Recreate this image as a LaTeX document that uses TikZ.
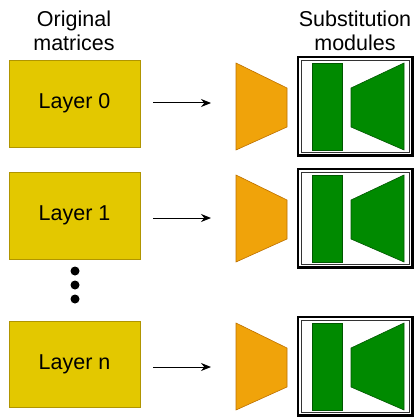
\documentclass[tikz,border=0pt]{standalone}
\usepackage{fontspec}
\setmainfont{Liberation Sans}
\usetikzlibrary{arrows.meta}
\definecolor{ylwfill}{HTML}{E3C800}
\definecolor{ylwdraw}{HTML}{B09500}
\definecolor{orgfill}{HTML}{F0A30A}
\definecolor{orgdraw}{HTML}{BD7000}
\definecolor{grnfill}{HTML}{008A00}
\definecolor{grndraw}{HTML}{005700}
\tikzset{
  layerbox/.style={draw=ylwdraw, fill=ylwfill, line width=0.8pt, minimum width=131pt, minimum height=87pt, inner sep=0pt, font=\fontsize{21.5}{24}\selectfont},
  header/.style={align=center, inner sep=0pt, font=\fontsize{21.5}{24}\selectfont},
  orgshape/.style={draw=orgdraw, fill=orgfill, line width=0.6pt},
  grnshape/.style={draw=grndraw, fill=grnfill, line width=0.6pt},
  outerbox/.style={draw=black, line width=2.4pt},
  innerbox/.style={draw=black!80, line width=0.6pt},
  flow/.style={draw=black, line width=1pt, -{Stealth[length=10pt,width=8pt]}},
  bullet/.style={circle, fill=black, inner sep=0pt, minimum size=9pt}
}
\newcommand{\submodule}[2]{%
  % #1 = name prefix, #2 = top y of the shapes
  \path[orgshape] (236,#2) -- (287,#2+25) -- (287,#2+64) -- (236,#2+87) -- cycle;
  \draw[outerbox] (298,#2-6) rectangle (412.5,#2+92.5);
  \draw[innerbox] (301.5,#2-2.5) rectangle (409,#2+89);
  \path[grnshape] (312,#2) rectangle (342,#2+87);
  \path[grnshape] (351,#2+25) -- (404,#2) -- (404,#2+87) -- (351,#2+64) -- cycle;
  \coordinate (#1in) at (236,#2+43.5);
}
\begin{document}
\begin{tikzpicture}[x=1pt,y=-1pt]
\useasboundingbox (0,0) rectangle (416,417);
\node[header] (h1) at (74,31) {Original\\matrices};
\node[header] (h2) at (355,31) {Substitution\\modules};

\node[layerbox] (L0) at (74.5,103.5) {Layer 0};
\node[layerbox] (L1) at (74.5,215.5) {Layer 1};
\node[layerbox, minimum height=86pt] (Ln) at (74.5,364) {Layer n};

\node[bullet] (d1) at (75,271) {};
\node[bullet] (d2) at (75,285) {};
\node[bullet] (d3) at (75,299) {};

\submodule{m0}{63}
\submodule{m1}{175}
\submodule{mn}{323}

\coordinate (a0s) at (153,103);
\coordinate (a0e) at (211,103);
\coordinate (a1s) at (153,218);
\coordinate (a1e) at (211,218);
\coordinate (ans) at (153,367);
\coordinate (ane) at (211,367);
\draw[flow] (a0s) -- (a0e);
\draw[flow] (a1s) -- (a1e);
\draw[flow] (ans) -- (ane);
\end{tikzpicture}
\end{document}
